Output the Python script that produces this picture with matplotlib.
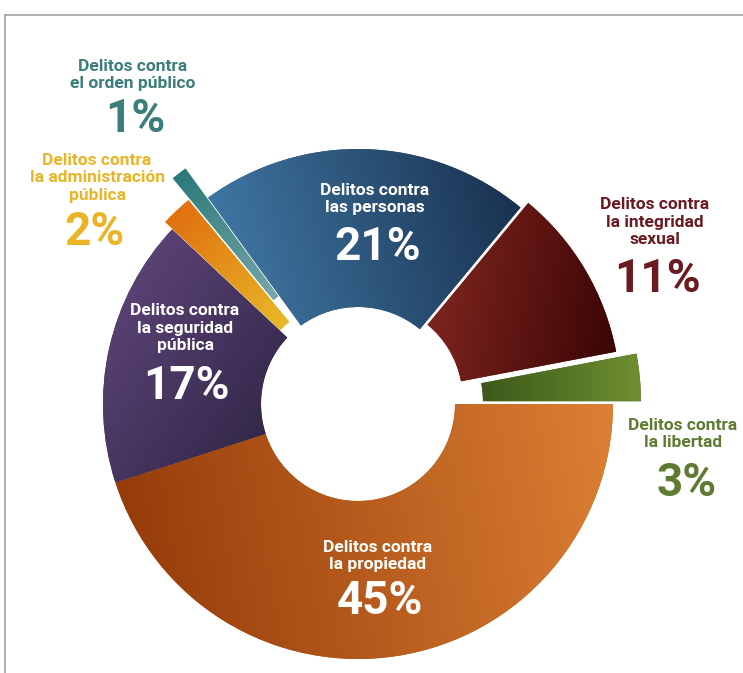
"""
Donut chart: distribución de delitos por tipo (recreated with matplotlib).
"""

import numpy as np
import matplotlib
matplotlib.use('Agg')
import matplotlib.pyplot as plt
from matplotlib.colors import LinearSegmentedColormap
from matplotlib.lines import Line2D

# Data (counterclockwise, starting at 3 o'clock)
categories = [
    'Delitos contra\nla libertad',
    'Delitos contra\nla integridad\nsexual',
    'Delitos contra\nlas personas',
    'Delitos contra\nel orden público',
    'Delitos contra\nla administración\npública',
    'Delitos contra\nla seguridad\npública',
    'Delitos contra\nla propiedad',
]
values = [3, 11, 21, 1, 2, 17, 45]
pct_labels = ['3%', '11%', '21%', '1%', '2%', '17%', '45%']

# Styling
plt.rcParams.update({
    'font.family': ['Roboto', 'DejaVu Sans'],
    'font.weight': 'bold',
})

W, H = 743, 673
CX, CY = 358, H - 404
R_OUT, R_IN = 255, 97

# offsets as a fraction of the outer radius (pie wants data units)
explode_frac = [0.11, 0.035, 0.0, 0.145, 0.04, 0.0, 0.0]
base_colors = ['#4a6a22', '#6e1a18', '#2c5278', '#5a9a9c', '#e8b020', '#43305a', '#c2621e']
# (start color, end color, gradient direction in degrees)
gradients = [
    ('#1f3a0e', '#6e8e30', 0),
    ('#8e2c24', '#3a0505', -10),
    ('#3f76a2', '#1a3250', 15),
    ('#2a7a7a', '#a8c2c8', -55),
    ('#e07010', '#eee438', -50),
    ('#5a4274', '#28213e', -35),
    ('#963c0a', '#dc8034', 10),
]
text_colors = ['#5f7b32', '#6a1a20', 'white', '#3a7d7a', '#e9b526', 'white', 'white']
# label centre / percentage centre in image pixels (x, y from top)
label_pos = [(683, 434), (655, 222), (375, 199), (133, 75), (97, 178), (185, 328), (378, 556)]
pct_pos = [(687, 483), (658, 279), (378, 247), (135, 119), (94, 232), (186, 386), (380, 601)]


def fill_gradient(ax, wedge, c0, c1, angle_deg):
    """Paint a linear gradient clipped to the wedge."""
    verts = wedge.get_path().vertices
    d = np.array([np.cos(np.radians(angle_deg)), np.sin(np.radians(angle_deg))])
    proj = verts @ d
    tmin, tmax = proj.min(), proj.max()
    x0, y0 = verts.min(axis=0)
    x1, y1 = verts.max(axis=0)
    X, Y = np.meshgrid(np.linspace(x0, x1, 256), np.linspace(y0, y1, 256))
    T = ((X * d[0] + Y * d[1]) - tmin) / (tmax - tmin)
    cmap = LinearSegmentedColormap.from_list('grad', [c0, c1])
    im = ax.imshow(T, cmap=cmap, vmin=0, vmax=1, extent=(x0, x1, y0, y1),
                   origin='lower', interpolation='bilinear', zorder=2)
    im.set_clip_path(wedge)


fig = plt.figure(figsize=(W / 100, H / 100), dpi=100)
ax = fig.add_axes([0, 0, 1, 1])

wedges, _ = ax.pie(values, explode=[f * R_OUT for f in explode_frac],
                   startangle=0, counterclock=True,
                   center=(CX, CY), radius=R_OUT, colors=base_colors,
                   wedgeprops=dict(width=R_OUT - R_IN, linewidth=0, edgecolor='none'))

for wedge, (c0, c1, ang) in zip(wedges, gradients):
    fill_gradient(ax, wedge, c0, c1, ang)

# Labels
for i, cat in enumerate(categories):
    lx, ly = label_pos[i]
    px, py = pct_pos[i]
    ax.text(lx, H - ly, cat, ha='center', va='center', fontsize=12.5,
            fontweight='bold', color=text_colors[i], linespacing=1.18, zorder=5)
    ax.text(px, H - py, pct_labels[i], ha='center', va='center', fontsize=33,
            fontweight='bold', color=text_colors[i], zorder=5)

ax.set_xlim(0, W)
ax.set_ylim(0, H)
ax.set_aspect('equal')
ax.axis('off')

# Thin frame on top and left
fig.add_artist(Line2D([5 / W, 1], [1 - 15 / H, 1 - 15 / H], transform=fig.transFigure,
                      color='#a9a9a9', linewidth=1.3))
fig.add_artist(Line2D([5 / W, 5 / W], [0, 1 - 15 / H], transform=fig.transFigure,
                      color='#a9a9a9', linewidth=1.3))

fig.savefig('out.png', dpi=100, facecolor='white')
plt.close(fig)
